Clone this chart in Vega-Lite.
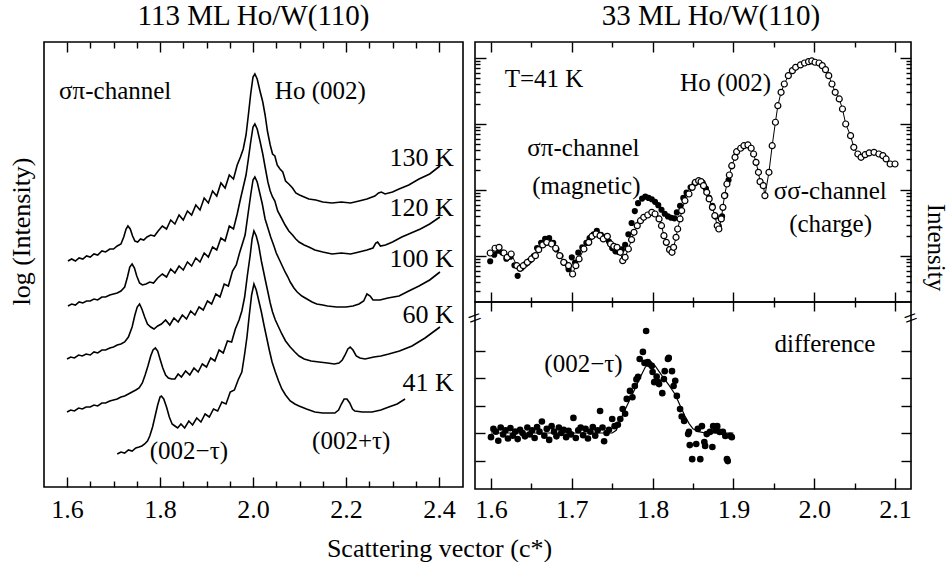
{
"$schema":"https://vega.github.io/schema/vega-lite/v6.json",
"padding":{"left":7,"top":1,"right":0,"bottom":0},
"background":"white",
"bounds":"flush",
"spacing":12,
"config":{
 "font":"Liberation Serif",
 "view":{"stroke":"black","strokeWidth":1.6},
 "axis":{"domain":false,"grid":false,"tickColor":"black","tickWidth":1.4,"labelColor":"black","labelFont":"Liberation Serif","labelFontSize":26,"titleFont":"Liberation Serif","titleFontSize":26,"titleFontWeight":"normal","titleColor":"black","labelFlush":false,"labelOverlap":false},
 "title":{"font":"Liberation Serif","fontSize":29,"fontWeight":"normal","color":"black"},
 "text":{"font":"Liberation Serif","fontSize":25,"color":"black"}
},
"datasets":{
"curves":[
{"c":"130 K","x":1.602,"y":226},{"c":"130 K","x":1.61,"y":228},{"c":"130 K","x":1.618,"y":226},{"c":"130 K","x":1.626,"y":229},{"c":"130 K","x":1.634,"y":228},{"c":"130 K","x":1.642,"y":231},{"c":"130 K","x":1.65,"y":230},{"c":"130 K","x":1.658,"y":233},{"c":"130 K","x":1.666,"y":232},{"c":"130 K","x":1.675,"y":236},{"c":"130 K","x":1.683,"y":235},{"c":"130 K","x":1.692,"y":238},{"c":"130 K","x":1.7,"y":238},{"c":"130 K","x":1.708,"y":241},{"c":"130 K","x":1.716,"y":243},{"c":"130 K","x":1.722,"y":250},{"c":"130 K","x":1.727,"y":258},{"c":"130 K","x":1.731,"y":261},{"c":"130 K","x":1.736,"y":258},{"c":"130 K","x":1.741,"y":251},{"c":"130 K","x":1.746,"y":246},{"c":"130 K","x":1.752,"y":245},{"c":"130 K","x":1.758,"y":248},{"c":"130 K","x":1.765,"y":247},{"c":"130 K","x":1.772,"y":250},{"c":"130 K","x":1.78,"y":252},{"c":"130 K","x":1.788,"y":251},{"c":"130 K","x":1.796,"y":256},{"c":"130 K","x":1.805,"y":261},{"c":"130 K","x":1.814,"y":258},{"c":"130 K","x":1.823,"y":267},{"c":"130 K","x":1.832,"y":263},{"c":"130 K","x":1.841,"y":272},{"c":"130 K","x":1.85,"y":267},{"c":"130 K","x":1.859,"y":276},{"c":"130 K","x":1.868,"y":272},{"c":"130 K","x":1.877,"y":282},{"c":"130 K","x":1.886,"y":277},{"c":"130 K","x":1.895,"y":289},{"c":"130 K","x":1.904,"y":284},{"c":"130 K","x":1.913,"y":296},{"c":"130 K","x":1.922,"y":291},{"c":"130 K","x":1.931,"y":304},{"c":"130 K","x":1.94,"y":299},{"c":"130 K","x":1.949,"y":312},{"c":"130 K","x":1.958,"y":308},{"c":"130 K","x":1.966,"y":322},{"c":"130 K","x":1.973,"y":330},{"c":"130 K","x":1.979,"y":338},{"c":"130 K","x":1.985,"y":352},{"c":"130 K","x":1.99,"y":372},{"c":"130 K","x":1.995,"y":393},{"c":"130 K","x":2.0,"y":410},{"c":"130 K","x":2.004,"y":413},{"c":"130 K","x":2.009,"y":408},{"c":"130 K","x":2.015,"y":396},{"c":"130 K","x":2.021,"y":385},{"c":"130 K","x":2.026,"y":372},{"c":"130 K","x":2.031,"y":356},{"c":"130 K","x":2.037,"y":342},{"c":"130 K","x":2.042,"y":333},{"c":"130 K","x":2.047,"y":331},{"c":"130 K","x":2.052,"y":322},{"c":"130 K","x":2.058,"y":318},{"c":"130 K","x":2.064,"y":315},{"c":"130 K","x":2.07,"y":306},{"c":"130 K","x":2.077,"y":303},{"c":"130 K","x":2.085,"y":299},{"c":"130 K","x":2.092,"y":294},{"c":"130 K","x":2.1,"y":292},{"c":"130 K","x":2.11,"y":290},{"c":"130 K","x":2.12,"y":288},{"c":"130 K","x":2.135,"y":287},{"c":"130 K","x":2.15,"y":285},{"c":"130 K","x":2.17,"y":284},{"c":"130 K","x":2.19,"y":285},{"c":"130 K","x":2.21,"y":284},{"c":"130 K","x":2.228,"y":286},{"c":"130 K","x":2.245,"y":288},{"c":"130 K","x":2.262,"y":291},{"c":"130 K","x":2.27,"y":294},{"c":"130 K","x":2.276,"y":295},{"c":"130 K","x":2.284,"y":293},{"c":"130 K","x":2.3,"y":295},{"c":"130 K","x":2.314,"y":298},{"c":"130 K","x":2.335,"y":302},{"c":"130 K","x":2.357,"y":308},{"c":"130 K","x":2.38,"y":313},{"c":"130 K","x":2.402,"y":321},
{"c":"120 K","x":1.602,"y":181},{"c":"120 K","x":1.61,"y":183},{"c":"120 K","x":1.618,"y":182},{"c":"120 K","x":1.626,"y":185},{"c":"120 K","x":1.634,"y":184},{"c":"120 K","x":1.642,"y":186},{"c":"120 K","x":1.65,"y":186},{"c":"120 K","x":1.658,"y":188},{"c":"120 K","x":1.666,"y":187},{"c":"120 K","x":1.675,"y":190},{"c":"120 K","x":1.683,"y":190},{"c":"120 K","x":1.692,"y":192},{"c":"120 K","x":1.7,"y":193},{"c":"120 K","x":1.708,"y":194},{"c":"120 K","x":1.716,"y":196},{"c":"120 K","x":1.724,"y":200},{"c":"120 K","x":1.73,"y":210},{"c":"120 K","x":1.735,"y":220},{"c":"120 K","x":1.74,"y":223},{"c":"120 K","x":1.745,"y":219},{"c":"120 K","x":1.75,"y":211},{"c":"120 K","x":1.756,"y":204},{"c":"120 K","x":1.762,"y":202},{"c":"120 K","x":1.77,"y":203},{"c":"120 K","x":1.778,"y":205},{"c":"120 K","x":1.786,"y":204},{"c":"120 K","x":1.795,"y":209},{"c":"120 K","x":1.805,"y":213},{"c":"120 K","x":1.814,"y":210},{"c":"120 K","x":1.823,"y":218},{"c":"120 K","x":1.832,"y":214},{"c":"120 K","x":1.841,"y":221},{"c":"120 K","x":1.85,"y":217},{"c":"120 K","x":1.859,"y":225},{"c":"120 K","x":1.868,"y":221},{"c":"120 K","x":1.877,"y":229},{"c":"120 K","x":1.886,"y":225},{"c":"120 K","x":1.895,"y":234},{"c":"120 K","x":1.904,"y":230},{"c":"120 K","x":1.913,"y":240},{"c":"120 K","x":1.922,"y":237},{"c":"120 K","x":1.931,"y":249},{"c":"120 K","x":1.94,"y":246},{"c":"120 K","x":1.949,"y":261},{"c":"120 K","x":1.958,"y":258},{"c":"120 K","x":1.966,"y":273},{"c":"120 K","x":1.973,"y":288},{"c":"120 K","x":1.979,"y":300},{"c":"120 K","x":1.985,"y":312},{"c":"120 K","x":1.99,"y":328},{"c":"120 K","x":1.995,"y":345},{"c":"120 K","x":2.0,"y":360},{"c":"120 K","x":2.004,"y":363},{"c":"120 K","x":2.009,"y":358},{"c":"120 K","x":2.015,"y":346},{"c":"120 K","x":2.021,"y":333},{"c":"120 K","x":2.026,"y":320},{"c":"120 K","x":2.032,"y":305},{"c":"120 K","x":2.037,"y":296},{"c":"120 K","x":2.042,"y":290},{"c":"120 K","x":2.047,"y":286},{"c":"120 K","x":2.053,"y":276},{"c":"120 K","x":2.06,"y":270},{"c":"120 K","x":2.069,"y":262},{"c":"120 K","x":2.077,"y":256},{"c":"120 K","x":2.085,"y":252},{"c":"120 K","x":2.092,"y":248},{"c":"120 K","x":2.099,"y":245},{"c":"120 K","x":2.11,"y":242},{"c":"120 K","x":2.12,"y":240},{"c":"120 K","x":2.133,"y":237},{"c":"120 K","x":2.15,"y":235},{"c":"120 K","x":2.17,"y":233},{"c":"120 K","x":2.19,"y":234},{"c":"120 K","x":2.21,"y":233},{"c":"120 K","x":2.228,"y":235},{"c":"120 K","x":2.245,"y":237},{"c":"120 K","x":2.258,"y":239},{"c":"120 K","x":2.264,"y":244},{"c":"120 K","x":2.268,"y":245},{"c":"120 K","x":2.274,"y":241},{"c":"120 K","x":2.285,"y":242},{"c":"120 K","x":2.3,"y":245},{"c":"120 K","x":2.32,"y":250},{"c":"120 K","x":2.34,"y":254},{"c":"120 K","x":2.36,"y":258},{"c":"120 K","x":2.38,"y":263},{"c":"120 K","x":2.402,"y":270},
{"c":"100 K","x":1.6,"y":128},{"c":"100 K","x":1.608,"y":130},{"c":"100 K","x":1.616,"y":129},{"c":"100 K","x":1.625,"y":132},{"c":"100 K","x":1.633,"y":131},{"c":"100 K","x":1.641,"y":133},{"c":"100 K","x":1.65,"y":132},{"c":"100 K","x":1.658,"y":135},{"c":"100 K","x":1.666,"y":134},{"c":"100 K","x":1.675,"y":137},{"c":"100 K","x":1.683,"y":137},{"c":"100 K","x":1.692,"y":139},{"c":"100 K","x":1.7,"y":140},{"c":"100 K","x":1.708,"y":142},{"c":"100 K","x":1.716,"y":143},{"c":"100 K","x":1.724,"y":145},{"c":"100 K","x":1.732,"y":150},{"c":"100 K","x":1.74,"y":160},{"c":"100 K","x":1.746,"y":172},{"c":"100 K","x":1.751,"y":180},{"c":"100 K","x":1.756,"y":183},{"c":"100 K","x":1.761,"y":178},{"c":"100 K","x":1.767,"y":170},{"c":"100 K","x":1.773,"y":163},{"c":"100 K","x":1.78,"y":160},{"c":"100 K","x":1.787,"y":158},{"c":"100 K","x":1.795,"y":161},{"c":"100 K","x":1.803,"y":163},{"c":"100 K","x":1.812,"y":167},{"c":"100 K","x":1.821,"y":162},{"c":"100 K","x":1.83,"y":169},{"c":"100 K","x":1.839,"y":165},{"c":"100 K","x":1.848,"y":172},{"c":"100 K","x":1.857,"y":168},{"c":"100 K","x":1.866,"y":176},{"c":"100 K","x":1.875,"y":172},{"c":"100 K","x":1.884,"y":180},{"c":"100 K","x":1.893,"y":177},{"c":"100 K","x":1.902,"y":186},{"c":"100 K","x":1.911,"y":183},{"c":"100 K","x":1.92,"y":193},{"c":"100 K","x":1.929,"y":190},{"c":"100 K","x":1.938,"y":203},{"c":"100 K","x":1.947,"y":201},{"c":"100 K","x":1.956,"y":216},{"c":"100 K","x":1.964,"y":222},{"c":"100 K","x":1.971,"y":234},{"c":"100 K","x":1.977,"y":243},{"c":"100 K","x":1.983,"y":252},{"c":"100 K","x":1.989,"y":272},{"c":"100 K","x":1.995,"y":292},{"c":"100 K","x":2.0,"y":307},{"c":"100 K","x":2.004,"y":310},{"c":"100 K","x":2.009,"y":305},{"c":"100 K","x":2.014,"y":295},{"c":"100 K","x":2.02,"y":283},{"c":"100 K","x":2.026,"y":268},{"c":"100 K","x":2.032,"y":259},{"c":"100 K","x":2.038,"y":250},{"c":"100 K","x":2.045,"y":241},{"c":"100 K","x":2.05,"y":234},{"c":"100 K","x":2.056,"y":228},{"c":"100 K","x":2.062,"y":222},{"c":"100 K","x":2.069,"y":215},{"c":"100 K","x":2.075,"y":210},{"c":"100 K","x":2.08,"y":205},{"c":"100 K","x":2.088,"y":199},{"c":"100 K","x":2.095,"y":195},{"c":"100 K","x":2.105,"y":191},{"c":"100 K","x":2.116,"y":188},{"c":"100 K","x":2.127,"y":185},{"c":"100 K","x":2.137,"y":183},{"c":"100 K","x":2.15,"y":182},{"c":"100 K","x":2.16,"y":181},{"c":"100 K","x":2.18,"y":180},{"c":"100 K","x":2.2,"y":180},{"c":"100 K","x":2.215,"y":181},{"c":"100 K","x":2.228,"y":183},{"c":"100 K","x":2.238,"y":186},{"c":"100 K","x":2.245,"y":193},{"c":"100 K","x":2.252,"y":191},{"c":"100 K","x":2.258,"y":187},{"c":"100 K","x":2.273,"y":187},{"c":"100 K","x":2.29,"y":189},{"c":"100 K","x":2.314,"y":191},{"c":"100 K","x":2.335,"y":196},{"c":"100 K","x":2.357,"y":201},{"c":"100 K","x":2.38,"y":207},{"c":"100 K","x":2.402,"y":215},
{"c":"60 K","x":1.6,"y":75},{"c":"60 K","x":1.608,"y":77},{"c":"60 K","x":1.616,"y":76},{"c":"60 K","x":1.625,"y":79},{"c":"60 K","x":1.633,"y":78},{"c":"60 K","x":1.641,"y":80},{"c":"60 K","x":1.65,"y":80},{"c":"60 K","x":1.658,"y":82},{"c":"60 K","x":1.666,"y":81},{"c":"60 K","x":1.675,"y":84},{"c":"60 K","x":1.683,"y":84},{"c":"60 K","x":1.692,"y":86},{"c":"60 K","x":1.7,"y":87},{"c":"60 K","x":1.708,"y":88},{"c":"60 K","x":1.716,"y":90},{"c":"60 K","x":1.724,"y":91},{"c":"60 K","x":1.732,"y":93},{"c":"60 K","x":1.74,"y":95},{"c":"60 K","x":1.748,"y":97},{"c":"60 K","x":1.755,"y":99},{"c":"60 K","x":1.762,"y":104},{"c":"60 K","x":1.768,"y":112},{"c":"60 K","x":1.774,"y":121},{"c":"60 K","x":1.78,"y":131},{"c":"60 K","x":1.785,"y":137},{"c":"60 K","x":1.79,"y":139},{"c":"60 K","x":1.795,"y":136},{"c":"60 K","x":1.8,"y":128},{"c":"60 K","x":1.806,"y":119},{"c":"60 K","x":1.812,"y":112},{"c":"60 K","x":1.818,"y":109},{"c":"60 K","x":1.825,"y":108},{"c":"60 K","x":1.832,"y":108},{"c":"60 K","x":1.839,"y":113},{"c":"60 K","x":1.846,"y":110},{"c":"60 K","x":1.855,"y":116},{"c":"60 K","x":1.864,"y":112},{"c":"60 K","x":1.873,"y":119},{"c":"60 K","x":1.882,"y":115},{"c":"60 K","x":1.891,"y":123},{"c":"60 K","x":1.9,"y":120},{"c":"60 K","x":1.909,"y":129},{"c":"60 K","x":1.918,"y":126},{"c":"60 K","x":1.927,"y":137},{"c":"60 K","x":1.936,"y":134},{"c":"60 K","x":1.945,"y":146},{"c":"60 K","x":1.954,"y":145},{"c":"60 K","x":1.962,"y":158},{"c":"60 K","x":1.97,"y":167},{"c":"60 K","x":1.976,"y":176},{"c":"60 K","x":1.982,"y":190},{"c":"60 K","x":1.988,"y":212},{"c":"60 K","x":1.994,"y":232},{"c":"60 K","x":1.998,"y":248},{"c":"60 K","x":2.002,"y":256},{"c":"60 K","x":2.007,"y":251},{"c":"60 K","x":2.012,"y":242},{"c":"60 K","x":2.018,"y":226},{"c":"60 K","x":2.026,"y":208},{"c":"60 K","x":2.032,"y":195},{"c":"60 K","x":2.037,"y":184},{"c":"60 K","x":2.042,"y":175},{"c":"60 K","x":2.048,"y":167},{"c":"60 K","x":2.055,"y":160},{"c":"60 K","x":2.062,"y":153},{"c":"60 K","x":2.07,"y":146},{"c":"60 K","x":2.08,"y":140},{"c":"60 K","x":2.09,"y":135},{"c":"60 K","x":2.099,"y":131},{"c":"60 K","x":2.11,"y":128},{"c":"60 K","x":2.125,"y":126},{"c":"60 K","x":2.142,"y":125},{"c":"60 K","x":2.16,"y":124},{"c":"60 K","x":2.175,"y":123},{"c":"60 K","x":2.185,"y":124},{"c":"60 K","x":2.192,"y":127},{"c":"60 K","x":2.198,"y":132},{"c":"60 K","x":2.204,"y":138},{"c":"60 K","x":2.209,"y":140},{"c":"60 K","x":2.215,"y":137},{"c":"60 K","x":2.222,"y":131},{"c":"60 K","x":2.23,"y":129},{"c":"60 K","x":2.241,"y":128},{"c":"60 K","x":2.26,"y":130},{"c":"60 K","x":2.275,"y":131},{"c":"60 K","x":2.292,"y":133},{"c":"60 K","x":2.315,"y":136},{"c":"60 K","x":2.342,"y":141},{"c":"60 K","x":2.37,"y":149},{"c":"60 K","x":2.402,"y":160},
{"c":"41 K","x":1.708,"y":33},{"c":"41 K","x":1.716,"y":35},{"c":"41 K","x":1.724,"y":34},{"c":"41 K","x":1.732,"y":37},{"c":"41 K","x":1.74,"y":36},{"c":"41 K","x":1.748,"y":39},{"c":"41 K","x":1.755,"y":40},{"c":"41 K","x":1.761,"y":41},{"c":"41 K","x":1.767,"y":43},{"c":"41 K","x":1.773,"y":46},{"c":"41 K","x":1.778,"y":51},{"c":"41 K","x":1.784,"y":60},{"c":"41 K","x":1.79,"y":72},{"c":"41 K","x":1.795,"y":82},{"c":"41 K","x":1.8,"y":90},{"c":"41 K","x":1.803,"y":91},{"c":"41 K","x":1.808,"y":88},{"c":"41 K","x":1.814,"y":80},{"c":"41 K","x":1.82,"y":70},{"c":"41 K","x":1.826,"y":63},{"c":"41 K","x":1.832,"y":61},{"c":"41 K","x":1.838,"y":59},{"c":"41 K","x":1.845,"y":63},{"c":"41 K","x":1.853,"y":59},{"c":"41 K","x":1.862,"y":66},{"c":"41 K","x":1.87,"y":62},{"c":"41 K","x":1.879,"y":69},{"c":"41 K","x":1.888,"y":65},{"c":"41 K","x":1.897,"y":73},{"c":"41 K","x":1.906,"y":70},{"c":"41 K","x":1.915,"y":78},{"c":"41 K","x":1.924,"y":76},{"c":"41 K","x":1.933,"y":85},{"c":"41 K","x":1.942,"y":83},{"c":"41 K","x":1.951,"y":95},{"c":"41 K","x":1.96,"y":97},{"c":"41 K","x":1.968,"y":107},{"c":"41 K","x":1.976,"y":115},{"c":"41 K","x":1.982,"y":133},{"c":"41 K","x":1.987,"y":150},{"c":"41 K","x":1.992,"y":172},{"c":"41 K","x":1.997,"y":192},{"c":"41 K","x":2.002,"y":203},{"c":"41 K","x":2.007,"y":197},{"c":"41 K","x":2.013,"y":185},{"c":"41 K","x":2.018,"y":175},{"c":"41 K","x":2.024,"y":161},{"c":"41 K","x":2.03,"y":148},{"c":"41 K","x":2.035,"y":137},{"c":"41 K","x":2.041,"y":125},{"c":"41 K","x":2.048,"y":115},{"c":"41 K","x":2.055,"y":106},{"c":"41 K","x":2.062,"y":98},{"c":"41 K","x":2.07,"y":92},{"c":"41 K","x":2.08,"y":86},{"c":"41 K","x":2.09,"y":83},{"c":"41 K","x":2.099,"y":81},{"c":"41 K","x":2.115,"y":78},{"c":"41 K","x":2.133,"y":75},{"c":"41 K","x":2.15,"y":74},{"c":"41 K","x":2.165,"y":74},{"c":"41 K","x":2.176,"y":74},{"c":"41 K","x":2.184,"y":77},{"c":"41 K","x":2.19,"y":83},{"c":"41 K","x":2.196,"y":88},{"c":"41 K","x":2.202,"y":88},{"c":"41 K","x":2.208,"y":84},{"c":"41 K","x":2.214,"y":78},{"c":"41 K","x":2.219,"y":76},{"c":"41 K","x":2.235,"y":75},{"c":"41 K","x":2.256,"y":75},{"c":"41 K","x":2.275,"y":77},{"c":"41 K","x":2.292,"y":80},{"c":"41 K","x":2.31,"y":83},{"c":"41 K","x":2.327,"y":88}
],
"open":[
{"x":1.599,"y":1.045},{"x":1.605,"y":1.117},{"x":1.61,"y":1.132},{"x":1.616,"y":1.045},{"x":1.62,"y":0.98},{"x":1.625,"y":1.03},{"x":1.632,"y":0.853},{"x":1.636,"y":0.813},{"x":1.64,"y":0.853},{"x":1.645,"y":0.904},{"x":1.65,"y":0.955},{"x":1.655,"y":1.005},{"x":1.659,"y":1.096},{"x":1.664,"y":1.167},{"x":1.669,"y":1.207},{"x":1.675,"y":1.182},{"x":1.68,"y":1.117},{"x":1.685,"y":1.005},{"x":1.69,"y":0.904},{"x":1.696,"y":0.853},{"x":1.701,"y":0.727},{"x":1.705,"y":0.853},{"x":1.709,"y":0.955},{"x":1.715,"y":1.106},{"x":1.721,"y":1.207},{"x":1.725,"y":1.298},{"x":1.73,"y":1.333},{"x":1.735,"y":1.308},{"x":1.739,"y":1.258},{"x":1.744,"y":1.298},{"x":1.748,"y":1.182},{"x":1.752,"y":1.147},{"x":1.756,"y":1.132},{"x":1.76,"y":1.056},{"x":1.763,"y":0.929},{"x":1.766,"y":0.98},{"x":1.77,"y":1.106},{"x":1.774,"y":1.247},{"x":1.777,"y":1.359},{"x":1.781,"y":1.459},{"x":1.785,"y":1.535},{"x":1.789,"y":1.586},{"x":1.794,"y":1.621},{"x":1.799,"y":1.662},{"x":1.803,"y":1.636},{"x":1.808,"y":1.561},{"x":1.811,"y":1.459},{"x":1.814,"y":1.308},{"x":1.817,"y":1.207},{"x":1.821,"y":1.096},{"x":1.824,"y":1.056},{"x":1.826,"y":1.132},{"x":1.829,"y":1.283},{"x":1.831,"y":1.409},{"x":1.834,"y":1.561},{"x":1.836,"y":1.686},{"x":1.84,"y":1.838},{"x":1.845,"y":1.939},{"x":1.849,"y":2.04},{"x":1.853,"y":2.116},{"x":1.857,"y":2.141},{"x":1.86,"y":2.126},{"x":1.863,"y":2.066},{"x":1.867,"y":1.965},{"x":1.87,"y":1.864},{"x":1.874,"y":1.737},{"x":1.877,"y":1.611},{"x":1.88,"y":1.459},{"x":1.882,"y":1.409},{"x":1.885,"y":1.561},{"x":1.887,"y":1.737},{"x":1.889,"y":1.914},{"x":1.892,"y":2.091},{"x":1.895,"y":2.227},{"x":1.898,"y":2.368},{"x":1.902,"y":2.495},{"x":1.904,"y":2.58},{"x":1.909,"y":2.632},{"x":1.913,"y":2.671},{"x":1.918,"y":2.682},{"x":1.922,"y":2.632},{"x":1.925,"y":2.545},{"x":1.928,"y":2.419},{"x":1.931,"y":2.268},{"x":1.933,"y":2.126},{"x":1.937,"y":2.066},{"x":1.939,"y":1.914},{"x":1.944,"y":2.268},{"x":1.948,"y":2.671},{"x":1.952,"y":3.026},{"x":1.955,"y":3.277},{"x":1.959,"y":3.48},{"x":1.963,"y":3.606},{"x":1.968,"y":3.732},{"x":1.973,"y":3.808},{"x":1.977,"y":3.859},{"x":1.983,"y":3.894},{"x":1.988,"y":3.924},{"x":1.993,"y":3.944},{"x":1.997,"y":3.955},{"x":2.001,"y":3.935},{"x":2.006,"y":3.924},{"x":2.01,"y":3.884},{"x":2.014,"y":3.823},{"x":2.018,"y":3.732},{"x":2.022,"y":3.606},{"x":2.026,"y":3.48},{"x":2.031,"y":3.379},{"x":2.035,"y":3.227},{"x":2.039,"y":3.0},{"x":2.045,"y":2.823},{"x":2.049,"y":2.647},{"x":2.054,"y":2.545},{"x":2.058,"y":2.495},{"x":2.063,"y":2.535},{"x":2.068,"y":2.561},{"x":2.074,"y":2.571},{"x":2.08,"y":2.545},{"x":2.085,"y":2.52},{"x":2.089,"y":2.47},{"x":2.094,"y":2.394},{"x":2.1,"y":2.394}
],
"filled":[
{"x":1.599,"y":0.92},{"x":1.604,"y":1.02},{"x":1.609,"y":1.08},{"x":1.614,"y":1.05},{"x":1.619,"y":0.96},{"x":1.624,"y":0.99},{"x":1.629,"y":0.86},{"x":1.633,"y":0.7},{"x":1.638,"y":0.82},{"x":1.643,"y":0.88},{"x":1.648,"y":0.93},{"x":1.653,"y":1.0},{"x":1.657,"y":1.12},{"x":1.662,"y":1.2},{"x":1.667,"y":1.26},{"x":1.672,"y":1.27},{"x":1.677,"y":1.2},{"x":1.681,"y":1.1},{"x":1.686,"y":1.0},{"x":1.691,"y":0.9},{"x":1.696,"y":0.8},{"x":1.7,"y":0.98},{"x":1.704,"y":0.9},{"x":1.708,"y":1.05},{"x":1.713,"y":1.13},{"x":1.718,"y":1.2},{"x":1.722,"y":1.27},{"x":1.727,"y":1.33},{"x":1.731,"y":1.38},{"x":1.736,"y":1.32},{"x":1.741,"y":1.29},{"x":1.746,"y":1.22},{"x":1.75,"y":1.12},{"x":1.754,"y":1.07},{"x":1.758,"y":1.06},{"x":1.762,"y":1.1},{"x":1.766,"y":1.17},{"x":1.77,"y":1.33},{"x":1.774,"y":1.5},{"x":1.778,"y":1.68},{"x":1.782,"y":1.8},{"x":1.787,"y":1.87},{"x":1.791,"y":1.9},{"x":1.795,"y":1.88},{"x":1.799,"y":1.86},{"x":1.803,"y":1.82},{"x":1.807,"y":1.77},{"x":1.811,"y":1.7},{"x":1.815,"y":1.64},{"x":1.819,"y":1.6},{"x":1.823,"y":1.58},{"x":1.827,"y":1.57},{"x":1.83,"y":1.66},{"x":1.834,"y":1.76},{"x":1.838,"y":1.88},{"x":1.842,"y":1.96},{"x":1.847,"y":2.04},{"x":1.852,"y":2.1},{"x":1.857,"y":2.13},{"x":1.862,"y":2.11},{"x":1.866,"y":2.02},{"x":1.87,"y":1.88},{"x":1.874,"y":1.76},{"x":1.878,"y":1.6},{"x":1.882,"y":1.45},{"x":1.886,"y":1.6},{"x":1.89,"y":1.92},{"x":1.894,"y":2.15},{"x":1.898,"y":2.36}
],
"diff":[
{"x":1.6,"y":-0.15},{"x":1.603,"y":0.15},{"x":1.606,"y":0.05},{"x":1.609,"y":-0.28},{"x":1.612,"y":0.2},{"x":1.615,"y":-0.05},{"x":1.618,"y":0.1},{"x":1.621,"y":-0.2},{"x":1.624,"y":0.18},{"x":1.627,"y":-0.1},{"x":1.63,"y":0.05},{"x":1.633,"y":-0.22},{"x":1.636,"y":0.12},{"x":1.639,"y":0.0},{"x":1.642,"y":-0.12},{"x":1.645,"y":0.2},{"x":1.648,"y":-0.05},{"x":1.651,"y":0.1},{"x":1.654,"y":-0.18},{"x":1.657,"y":0.22},{"x":1.66,"y":0.05},{"x":1.663,"y":0.42},{"x":1.666,"y":-0.1},{"x":1.669,"y":0.15},{"x":1.672,"y":-0.25},{"x":1.675,"y":0.25},{"x":1.678,"y":0.05},{"x":1.681,"y":-0.12},{"x":1.684,"y":0.2},{"x":1.687,"y":0.0},{"x":1.69,"y":0.12},{"x":1.693,"y":-0.15},{"x":1.696,"y":0.08},{"x":1.699,"y":-0.05},{"x":1.702,"y":0.55},{"x":1.705,"y":-0.18},{"x":1.708,"y":0.1},{"x":1.711,"y":0.2},{"x":1.714,"y":-0.08},{"x":1.717,"y":0.15},{"x":1.72,"y":-0.2},{"x":1.723,"y":0.05},{"x":1.726,"y":0.22},{"x":1.729,"y":-0.1},{"x":1.732,"y":0.1},{"x":1.735,"y":0.8},{"x":1.738,"y":0.2},{"x":1.74,"y":-0.3},{"x":1.743,"y":0.0},{"x":1.746,"y":0.12},
{"x":1.75,"y":0.51},{"x":1.753,"y":0.25},{"x":1.757,"y":0.3},{"x":1.76,"y":0.51},{"x":1.763,"y":0.87},{"x":1.766,"y":0.7},{"x":1.768,"y":1.24},{"x":1.772,"y":1.53},{"x":1.775,"y":1.3},{"x":1.778,"y":1.71},{"x":1.78,"y":1.95},{"x":1.782,"y":2.04},{"x":1.784,"y":2.69},{"x":1.788,"y":2.95},{"x":1.79,"y":2.55},{"x":1.792,"y":3.71},{"x":1.794,"y":2.58},{"x":1.796,"y":2.51},{"x":1.799,"y":2.44},{"x":1.8,"y":2.22},{"x":1.802,"y":1.85},{"x":1.805,"y":2.05},{"x":1.807,"y":1.85},{"x":1.808,"y":1.78},{"x":1.812,"y":1.45},{"x":1.814,"y":1.96},{"x":1.815,"y":2.25},{"x":1.819,"y":2.69},{"x":1.82,"y":2.73},{"x":1.824,"y":2.25},{"x":1.826,"y":1.71},{"x":1.828,"y":1.9},{"x":1.83,"y":1.35},{"x":1.834,"y":0.87},{"x":1.836,"y":0.6},{"x":1.839,"y":0.44},{"x":1.844,"y":-0.04},{"x":1.845,"y":0.04},{"x":1.846,"y":-0.44},{"x":1.849,"y":-0.95},{"x":1.854,"y":-0.4},{"x":1.856,"y":0.15},{"x":1.859,"y":-0.95},{"x":1.861,"y":0.25},{"x":1.864,"y":-0.33},{"x":1.865,"y":-0.47},{"x":1.867,"y":-0.04},{"x":1.871,"y":0.04},{"x":1.874,"y":-0.51},{"x":1.875,"y":0.25},{"x":1.878,"y":0.1},{"x":1.88,"y":0.25},{"x":1.883,"y":0.04},{"x":1.887,"y":0.04},{"x":1.89,"y":-0.11},{"x":1.892,"y":-0.95},{"x":1.893,"y":-1.02},{"x":1.896,"y":-0.1},{"x":1.898,"y":-0.15}
],
"fit":[
{"x":1.6,"y":0},{"x":1.75,"y":0},{"x":1.755,"y":0.1},{"x":1.762,"y":0.6},{"x":1.77,"y":1.1},{"x":1.778,"y":1.6},{"x":1.785,"y":2.05},{"x":1.791,"y":2.4},{"x":1.797,"y":2.55},{"x":1.803,"y":2.45},{"x":1.812,"y":2.07},{"x":1.82,"y":1.75},{"x":1.828,"y":1.4},{"x":1.834,"y":1.0},{"x":1.84,"y":0.62},{"x":1.845,"y":0.35},{"x":1.85,"y":0.15},{"x":1.857,"y":0.05},{"x":1.865,"y":0},{"x":1.9,"y":0}
],
"ann":[
{"g":"La","x":1.583,"y":388,"label":"σπ-channel"},{"g":"La","x":2.047,"y":388,"label":"Ho (002)"},
{"g":"Lt","x":2.432,"y":321,"label":"130 K"},{"g":"Lt","x":2.432,"y":271,"label":"120 K"},{"g":"Lt","x":2.432,"y":220,"label":"100 K"},{"g":"Lt","x":2.432,"y":164,"label":"60 K"},{"g":"Lt","x":2.432,"y":96,"label":"41 K"},
{"g":"Lm","x":1.778,"y":28,"label":"(002−τ)"},
{"g":"Lp","x":2.127,"y":38,"label":"(002+τ)"},
{"g":"R","x":1.617,"y":3.56,"label":"T=41 K"},{"g":"R","x":1.834,"y":3.5,"label":"Ho (002)"},{"g":"R","x":1.645,"y":2.52,"label":"σπ-channel"},{"g":"R","x":1.651,"y":1.94,"label":"(magnetic)"},{"g":"R","x":1.95,"y":1.864,"label":"σσ-channel"},{"g":"R","x":1.969,"y":1.36,"label":"(charge)"},
{"g":"Bd","x":1.951,"y":2.93,"label":"difference"},
{"g":"Bt","x":1.666,"y":2.22,"label":"(002−τ)"},
{"g":"Bb","x":1.5802,"y":4.15,"label":"="},{"g":"Bb","x":2.1198,"y":4.15,"label":"="}
]
},
"hconcat":[
{
 "width":419,"height":445,
 "title":{"text":"113 ML Ho/W(110)","anchor":"middle","offset":10},
 "resolve":{"axis":{"x":"independent","y":"independent"}},
 "layer":[
  {"data":{"name":"curves"},"mark":{"type":"line","color":"black","strokeWidth":1.6},
   "encoding":{
    "x":{"field":"x","type":"quantitative","scale":{"domain":[1.5505,2.4516],"nice":false,"zero":false},
     "axis":{"values":[1.6,1.8,2.0,2.2,2.4],"format":".1f","ticks":false,"labelPadding":30,"labelBaseline":"alphabetic","title":"Scattering vector (c*)","titleX":395,"titleY":69,"titleBaseline":"alphabetic","titleAlign":"center","titleFontSize":26}},
    "y":{"field":"y","type":"quantitative","scale":{"domain":[0,445],"nice":false,"zero":false},
     "axis":{"title":"log (Intensity)","ticks":false,"labels":false,"titleAngle":-90,"titleX":-15,"titleY":189,"titleBaseline":"alphabetic","titleAlign":"center","titleFontSize":26}},
    "detail":{"field":"c","type":"nominal"}}},
  {"data":{"name":"ann"},"transform":[{"filter":"datum.g == 'La'"}],"mark":{"type":"text","align":"left","baseline":"alphabetic","fontSize":25},
   "encoding":{
    "x":{"field":"x","type":"quantitative","scale":{"domain":[1.5505,2.4516],"nice":false,"zero":false},"axis":{"orient":"bottom","values":[1.6,1.8,2.0,2.2,2.4],"tickSize":-10,"labels":false,"title":null}},
    "y":{"field":"y","type":"quantitative","scale":{"domain":[0,445],"nice":false,"zero":false},"axis":null},
    "text":{"field":"label"}}},
  {"data":{"name":"ann"},"transform":[{"filter":"datum.g == 'Lt'"}],"mark":{"type":"text","align":"right","baseline":"alphabetic","fontSize":26},
   "encoding":{
    "x":{"field":"x","type":"quantitative","scale":{"domain":[1.5505,2.4516],"nice":false,"zero":false},"axis":{"orient":"bottom","values":[1.65,1.7,1.75,1.85,1.9,1.95,2.05,2.1,2.15,2.25,2.3,2.35],"tickSize":-6,"labels":false,"title":null}},
    "y":{"field":"y","type":"quantitative","scale":{"domain":[0,445],"nice":false,"zero":false},"axis":null},
    "text":{"field":"label"}}},
  {"data":{"name":"ann"},"transform":[{"filter":"datum.g == 'Lm'"}],"mark":{"type":"text","align":"left","baseline":"alphabetic","fontSize":25},
   "encoding":{
    "x":{"field":"x","type":"quantitative","scale":{"domain":[1.5505,2.4516],"nice":false,"zero":false},"axis":{"orient":"top","values":[1.6,1.8,2.0,2.2,2.4],"tickSize":-10,"labels":false,"title":null}},
    "y":{"field":"y","type":"quantitative","scale":{"domain":[0,445],"nice":false,"zero":false},"axis":null},
    "text":{"field":"label"}}},
  {"data":{"name":"ann"},"transform":[{"filter":"datum.g == 'Lp'"}],"mark":{"type":"text","align":"left","baseline":"alphabetic","fontSize":25},
   "encoding":{
    "x":{"field":"x","type":"quantitative","scale":{"domain":[1.5505,2.4516],"nice":false,"zero":false},"axis":{"orient":"top","values":[1.65,1.7,1.75,1.85,1.9,1.95,2.05,2.1,2.15,2.25,2.3,2.35],"tickSize":-6,"labels":false,"title":null}},
    "y":{"field":"y","type":"quantitative","scale":{"domain":[0,445],"nice":false,"zero":false},"axis":null},
    "text":{"field":"label"}}}
 ]
},
{
 "vconcat":[
  {
   "width":436,"height":260,
   "title":{"text":"33 ML Ho/W(110)","anchor":"middle","offset":10,"dx":18},
   "resolve":{"axis":{"x":"independent","y":"independent"}},
   "layer":[
    {"data":{"name":"filled"},"mark":{"type":"point","shape":"circle","filled":true,"color":"black","size":38,"opacity":1},
     "encoding":{
      "x":{"field":"x","type":"quantitative","scale":{"domain":[1.5802,2.1198],"nice":false,"zero":false},"axis":{"orient":"bottom","values":[1.6,1.7,1.8,1.9,2.0,2.1],"tickSize":-10,"labels":false,"title":null}},
      "y":{"field":"y","type":"quantitative","scale":{"domain":[0.303,4.242],"nice":false,"zero":false},"axis":{"orient":"right","values":[1,2,3,4],"tickSize":-11,"labels":false,"title":"Intensity","titleAngle":90,"titleX":16,"titleY":205,"titleBaseline":"alphabetic","titleAlign":"center","titleFontSize":25}}}},
    {"data":{"name":"open"},"mark":{"type":"line","color":"black","strokeWidth":1},
     "encoding":{
      "x":{"field":"x","type":"quantitative","scale":{"domain":[1.5802,2.1198],"nice":false,"zero":false},"axis":{"orient":"top","values":[1.6,1.7,1.8,1.9,2.0,2.1],"tickSize":-10,"labels":false,"title":null}},
      "y":{"field":"y","type":"quantitative","scale":{"domain":[0.303,4.242],"nice":false,"zero":false},"axis":{"orient":"left","values":[1,2,3,4],"tickSize":-11,"labels":false,"title":null}}}},
    {"data":{"name":"open"},"mark":{"type":"point","shape":"circle","filled":true,"fill":"white","stroke":"black","strokeWidth":1.2,"size":36,"opacity":1},
     "encoding":{
      "x":{"field":"x","type":"quantitative","scale":{"domain":[1.5802,2.1198],"nice":false,"zero":false},"axis":{"orient":"top","values":[1.65,1.75,1.85,1.95,2.05],"tickSize":-5,"labels":false,"title":null}},
      "y":{"field":"y","type":"quantitative","scale":{"domain":[0.303,4.242],"nice":false,"zero":false},"axis":{"orient":"left","values":[0.477,0.602,0.699,0.778,0.845,0.903,0.954,1.301,1.477,1.602,1.699,1.778,1.845,1.903,1.954,2.301,2.477,2.602,2.699,2.778,2.845,2.903,2.954,3.301,3.477,3.602,3.699,3.778,3.845,3.903,3.954],"tickSize":-5,"labels":false,"title":null}}}},
    {"data":{"name":"ann"},"transform":[{"filter":"datum.g == 'R'"}],"mark":{"type":"text","align":"left","baseline":"alphabetic","fontSize":25},
     "encoding":{
      "x":{"field":"x","type":"quantitative","scale":{"domain":[1.5802,2.1198],"nice":false,"zero":false},"axis":{"orient":"bottom","values":[1.65,1.75,1.85,1.95,2.05],"tickSize":-5,"labels":false,"title":null}},
      "y":{"field":"y","type":"quantitative","scale":{"domain":[0.303,4.242],"nice":false,"zero":false},"axis":{"orient":"right","values":[0.477,0.602,0.699,0.778,0.845,0.903,0.954,1.301,1.477,1.602,1.699,1.778,1.845,1.903,1.954,2.301,2.477,2.602,2.699,2.778,2.845,2.903,2.954,3.301,3.477,3.602,3.699,3.778,3.845,3.903,3.954],"tickSize":-5,"labels":false,"title":null}},
      "text":{"field":"label"}}}
   ]
  },
  {
   "width":436,"height":187,
   "resolve":{"axis":{"x":"independent","y":"independent"}},
   "layer":[
    {"data":{"name":"diff"},"mark":{"type":"point","shape":"circle","filled":true,"color":"black","size":44,"opacity":1},
     "encoding":{
      "x":{"field":"x","type":"quantitative","scale":{"domain":[1.5802,2.1198],"nice":false,"zero":false},"axis":{"values":[1.6,1.7,1.8,1.9,2.0,2.1],"format":".1f","ticks":false,"labelPadding":28,"labelBaseline":"alphabetic","title":null}},
      "y":{"field":"y","type":"quantitative","scale":{"domain":[-2.036,4.764],"nice":false,"zero":false},"axis":{"orient":"left","values":[-1,0,1,2,3],"tickSize":-10,"labels":false,"title":null}}}},
    {"data":{"name":"fit"},"mark":{"type":"line","color":"black","strokeWidth":1.2},
     "encoding":{
      "x":{"field":"x","type":"quantitative","scale":{"domain":[1.5802,2.1198],"nice":false,"zero":false},"axis":{"orient":"bottom","values":[1.6,1.7,1.8,1.9,2.0,2.1],"tickSize":-11,"labels":false,"title":null}},
      "y":{"field":"y","type":"quantitative","scale":{"domain":[-2.036,4.764],"nice":false,"zero":false},"axis":{"orient":"right","values":[-1,0,1,2,3],"tickSize":-10,"labels":false,"title":null}}}},
    {"data":{"name":"ann"},"transform":[{"filter":"datum.g == 'Bd'"}],"mark":{"type":"text","align":"left","baseline":"alphabetic","fontSize":25},
     "encoding":{
      "x":{"field":"x","type":"quantitative","scale":{"domain":[1.5802,2.1198],"nice":false,"zero":false},"axis":{"orient":"bottom","values":[1.65,1.75,1.85,1.95,2.05],"tickSize":-6,"labels":false,"title":null}},
      "y":{"field":"y","type":"quantitative","scale":{"domain":[-2.036,4.764],"nice":false,"zero":false},"axis":null},
      "text":{"field":"label"}}},
    {"data":{"name":"ann"},"transform":[{"filter":"datum.g == 'Bt'"}],"mark":{"type":"text","align":"left","baseline":"alphabetic","fontSize":25},
     "encoding":{
      "x":{"field":"x","type":"quantitative","scale":{"domain":[1.5802,2.1198],"nice":false,"zero":false},"axis":{"orient":"top","values":[1.6,1.7,1.8,1.9,2.0,2.1],"tickSize":-9,"labels":false,"title":null}},
      "y":{"field":"y","type":"quantitative","scale":{"domain":[-2.036,4.764],"nice":false,"zero":false},"axis":null},
      "text":{"field":"label"}}},
    {"data":{"name":"ann"},"transform":[{"filter":"datum.g == 'Bb'"}],"mark":{"type":"text","align":"center","baseline":"middle","fontSize":24,"angle":-20},
     "encoding":{
      "x":{"field":"x","type":"quantitative","scale":{"domain":[1.5802,2.1198],"nice":false,"zero":false},"axis":{"orient":"top","values":[1.65,1.75,1.85,1.95,2.05],"tickSize":-5,"labels":false,"title":null}},
      "y":{"field":"y","type":"quantitative","scale":{"domain":[-2.036,4.764],"nice":false,"zero":false},"axis":null},
      "text":{"field":"label"}}}
   ]
  }
 ],
 "spacing":0,
 "bounds":"flush"
}
]
}
